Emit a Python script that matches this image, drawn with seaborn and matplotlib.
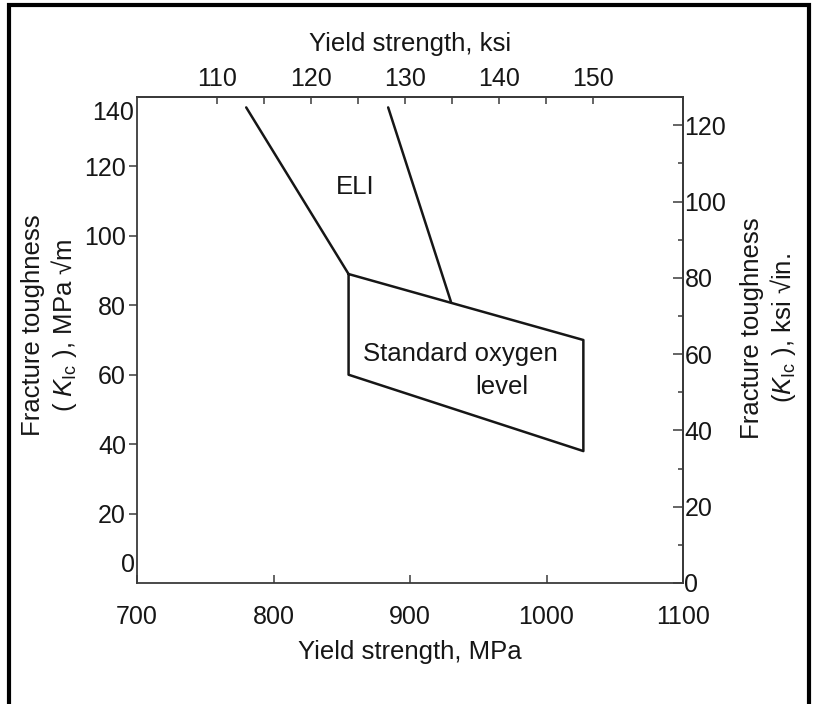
import numpy as np
import pandas as pd
import matplotlib
matplotlib.use("Agg")
import matplotlib.pyplot as plt
from matplotlib.patches import Rectangle
from matplotlib.ticker import FixedLocator
import seaborn as sns

# Fracture toughness bands vs. yield strength (MPa, MPa*sqrt(m))
eli_left_x = [780, 855]
eli_left_y = [137, 89]
eli_right_x = [884, 930]
eli_right_y = [137, 81]
std_x = [855, 1027, 1027, 855, 855]
std_y = [89, 70, 38, 60, 89]

# Axis ticks
mpa_ticks = [700, 800, 900, 1000, 1100]
ksi_ticks = [110, 120, 130, 140, 150]
ksi_minor = [115, 125, 135, 145]
kic_mpa_ticks = [20, 40, 60, 80, 100, 120]
kic_mpa_end_labels = [0, 140]
kic_ksi_ticks = [0, 20, 40, 60, 80, 100, 120]
kic_ksi_minor = [10, 30, 50, 70, 90, 110]

MPA_PER_KSI = 6.895
MPAM_PER_KSIIN = 1.0988

sns.set_theme(style="ticks")
plt.rcParams["font.family"] = ["Liberation Sans", "DejaVu Sans"]
plt.rcParams["mathtext.fontset"] = "custom"
plt.rcParams["mathtext.rm"] = "Liberation Sans"
plt.rcParams["mathtext.it"] = "Liberation Sans:italic"
plt.rcParams["mathtext.bf"] = "Liberation Sans:bold"

FS = 18.5      # titles and region names
TFS = 18       # tick labels
INK = "#161616"
AXC = "#3a3a3a"

segments = pd.DataFrame({
    "strength": eli_left_x + eli_right_x + std_x,
    "toughness": eli_left_y + eli_right_y + std_y,
    "piece": ["eli_left"] * len(eli_left_x) + ["eli_right"] * len(eli_right_x)
             + ["standard"] * len(std_x),
})

fig = plt.figure(figsize=(8.14, 7.04), dpi=100)
ax = fig.add_axes([137 / 814, 1 - 583 / 704, (683 - 137) / 814, (583 - 97) / 704])

sns.lineplot(data=segments, x="strength", y="toughness", units="piece",
             estimator=None, sort=False, color=INK, lw=1.8, ax=ax)

ax.set_xlim(700, 1100)
ax.set_ylim(0, 140)

for s in ax.spines.values():
    s.set_color(AXC)
    s.set_linewidth(1.3)

# bottom axis: MPa
ax.set_xticks(mpa_ticks)
ax.tick_params(axis="x", direction="in", length=6, width=1.1, color=AXC,
               labelsize=TFS, pad=16, labelcolor=INK)
ax.set_xlabel("Yield strength, MPa", fontsize=FS, color=INK, labelpad=8)

# left axis: MPa sqrt(m)
ax.set_yticks(kic_mpa_ticks)
ax.tick_params(axis="y", direction="out", length=6, width=1.1, color=AXC,
               labelsize=TFS, pad=2, labelcolor=INK)
for v, dx, dy in zip(kic_mpa_end_labels, [-2, -3], [18, -16]):
    ax.annotate(str(v), xy=(0, v), xycoords=("axes fraction", "data"),
                xytext=(dx, dy), textcoords="offset pixels",
                ha="right", va="center", fontsize=TFS, color=INK)
ax.set_ylabel("Fracture toughness\n( $K_{\\mathrm{Ic}}$ ), MPa \u221am",
              fontsize=FS, color=INK, multialignment="center", linespacing=1.15)
ax.yaxis.set_label_coords(-0.107, 0.53)

# top axis: ksi
top = ax.secondary_xaxis("top", functions=(lambda m: m / MPA_PER_KSI,
                                           lambda k: k * MPA_PER_KSI))
top.xaxis.set_major_locator(FixedLocator(ksi_ticks))
top.xaxis.set_minor_locator(FixedLocator(ksi_minor))
top.tick_params(axis="x", which="both", direction="in", length=5, width=1.1,
                color=AXC, labelsize=TFS, pad=4, labelcolor=INK)
top.set_xlabel("Yield strength, ksi", fontsize=FS, color=INK, labelpad=12)
top.spines["top"].set_color(AXC)
top.spines["top"].set_linewidth(1.3)

# right axis: ksi sqrt(in.)
right = ax.secondary_yaxis("right", functions=(lambda m: m / MPAM_PER_KSIIN,
                                               lambda k: k * MPAM_PER_KSIIN))
right.yaxis.set_major_locator(FixedLocator(kic_ksi_ticks))
right.yaxis.set_minor_locator(FixedLocator(kic_ksi_minor))
right.tick_params(axis="y", which="major", direction="in", length=7, width=1.1,
                  color=AXC, labelsize=TFS, pad=1, labelcolor=INK)
right.tick_params(axis="y", which="minor", direction="in", length=3.5, width=1.1,
                  color=AXC)
right.spines["right"].set_color(AXC)
right.spines["right"].set_linewidth(1.3)
fig.text(769 / 814, 1 - 328 / 704,
         "Fracture toughness\n($K_{\\mathrm{Ic}}$ ), ksi \u221ain.",
         rotation=90, ha="center", va="center", multialignment="center",
         linespacing=1.2, fontsize=FS, color=INK)

# region names
ax.text(860, 114, "ELI", ha="center", va="center", fontsize=FS, color=INK)
ax.text(937, 66, "Standard oxygen", ha="center", va="center", fontsize=FS, color=INK)
ax.text(967, 56.5, "level", ha="center", va="center", fontsize=FS, color=INK)

# page frame (open at the bottom edge of the sheet)
fig.add_artist(Rectangle((9 / 814, -10 / 704), 800 / 814, 709 / 704,
                         transform=fig.transFigure, fill=False,
                         lw=3, edgecolor="black"))

fig.savefig("out.png", dpi=100)
